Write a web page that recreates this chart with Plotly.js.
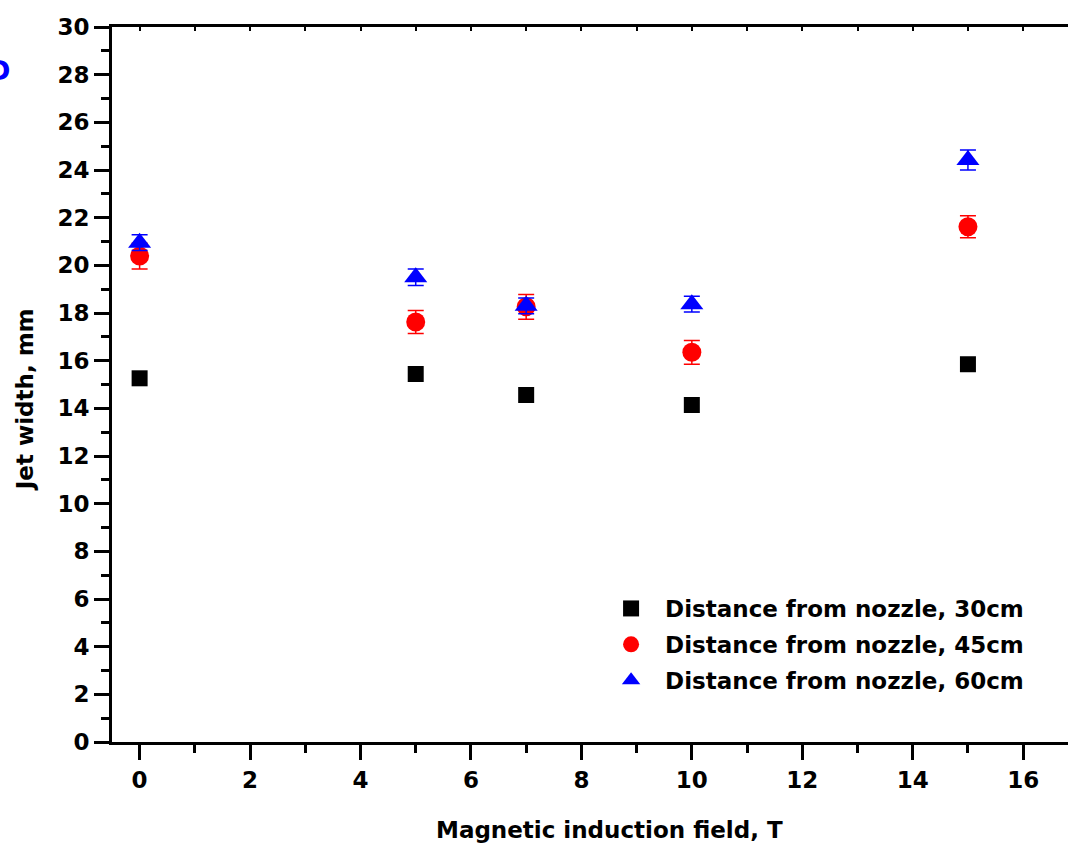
<!DOCTYPE html>
<html>
<head>
<meta charset="utf-8">
<script src="https://cdn.plot.ly/plotly-3.0.1.min.js"></script>
<style>
html, body { margin: 0; padding: 0; overflow: hidden; background: #fff; }
#chart { width: 1106px; height: 843px; }
</style>
</head>
<body>
<div id="chart"></div>
<script>
// Data
var fieldT = [0, 5, 7, 10, 15];
var width30 = [15.26, 15.44, 14.56, 14.14, 15.85];
var width45 = [20.39, 17.62, 18.26, 16.35, 21.62];
var err45 = [0.54, 0.48, 0.52, 0.50, 0.46];
var width60 = [20.95, 19.50, 18.30, 18.37, 24.42];
var err60 = [0.33, 0.35, 0.33, 0.33, 0.42];
var seriesNames = ['Distance from nozzle, 30cm', 'Distance from nozzle, 45cm', 'Distance from nozzle, 60cm'];
var yTickVals = [0, 2, 4, 6, 8, 10, 12, 14, 16, 18, 20, 22, 24, 26, 28, 30];
var xTickVals = [0, 2, 4, 6, 8, 10, 12, 14, 16];

var FONT = 'DejaVu Sans';
var traces = [
  {
    x: fieldT, y: width30, name: seriesNames[0], type: 'scatter', mode: 'markers',
    legendgroup: 'a',
    marker: { symbol: 'square', size: 16, color: '#000000' }
  },
  {
    x: fieldT, y: width45, name: seriesNames[1], type: 'scatter', mode: 'markers',
    legendgroup: 'b',
    marker: { symbol: 'circle', size: 19, color: '#ff0000' },
    error_y: { type: 'data', array: err45, visible: true, color: '#ff0000', thickness: 1.5, width: 8 }
  },
  {
    x: fieldT, y: width60, name: seriesNames[2], type: 'scatter', mode: 'markers',
    legendgroup: 'c',
    marker: { symbol: 'triangle-up', size: 20, color: '#0000ff' },
    error_y: { type: 'data', array: err60, visible: true, color: '#0000ff', thickness: 1.5, width: 8 }
  },
  {
    x: fieldT, y: width30, xaxis: 'x2', type: 'scatter', mode: 'none',
    showlegend: false, hoverinfo: 'skip'
  }
];

var layout = {
  width: 1106, height: 843,
  margin: { l: 112, r: 0, t: 27, b: 101, pad: 0 },
  paper_bgcolor: '#ffffff', plot_bgcolor: '#ffffff',
  showlegend: true,
  font: { family: FONT, size: 23, color: '#000000', weight: 'bold' },
  xaxis: {
    range: [-0.5, 17.5], tickvals: xTickVals, ticktext: xTickVals.map(String),
    ticks: 'outside', ticklen: 15, tickwidth: 3, tickcolor: '#000',
    minor: { dtick: 1, tick0: 0, ticks: 'outside', ticklen: 8, tickwidth: 3, tickcolor: '#000', showgrid: false },
    showline: true, linewidth: 3, linecolor: '#000', showgrid: false, zeroline: false,
    tickfont: { family: FONT, size: 23, weight: 'bold', color: '#000' }
  },
  xaxis2: {
    overlaying: 'x', side: 'top', range: [-0.5, 17.5], dtick: 1, tick0: 0,
    ticks: 'inside', ticklen: 4, tickwidth: 2, tickcolor: '#000',
    showline: true, linewidth: 3, linecolor: '#000', showgrid: false, zeroline: false,
    showticklabels: false
  },
  yaxis: {
    range: [0, 30], tickvals: yTickVals, ticktext: yTickVals.map(String),
    ticks: 'outside', ticklen: 15, tickwidth: 3, tickcolor: '#000',
    minor: { dtick: 1, tick0: 0, ticks: 'outside', ticklen: 8, tickwidth: 3, tickcolor: '#000', showgrid: false },
    showline: true, linewidth: 3, linecolor: '#000', showgrid: false, zeroline: false,
    tickfont: { family: FONT, size: 23, weight: 'bold', color: '#000' }
  },
  legend: {
    x: 0.488, y: 0.2168, xanchor: 'left', yanchor: 'top',
    bgcolor: 'rgba(0,0,0,0)', borderwidth: 0,
    itemwidth: 58, tracegroupgap: 3, itemsizing: 'trace',
    font: { family: FONT, size: 23, weight: 'bold', color: '#000' }
  },
  annotations: [
    {
      text: 'Jet width, mm', xref: 'paper', yref: 'paper', x: 0, y: 0.478,
      xshift: -87, xanchor: 'center', yanchor: 'middle', textangle: -90, showarrow: false,
      font: { family: FONT, size: 23, weight: 'bold', color: '#000' }
    },
    {
      text: 'Magnetic induction field, T', xref: 'paper', yref: 'paper', x: 0.5, y: -0.123,
      xanchor: 'center', yanchor: 'middle', showarrow: false,
      font: { family: FONT, size: 23, weight: 'bold', color: '#000' }
    },
    {
      text: 'D', xref: 'paper', yref: 'paper', x: 0, y: 0.939,
      xshift: -100, xanchor: 'right', yanchor: 'middle', showarrow: false,
      font: { family: FONT, size: 27, weight: 'bold', color: '#0000ff' }
    }
  ]
};

Plotly.newPlot('chart', traces, layout, { displayModeBar: false, staticPlot: true });
</script>
</body>
</html>
